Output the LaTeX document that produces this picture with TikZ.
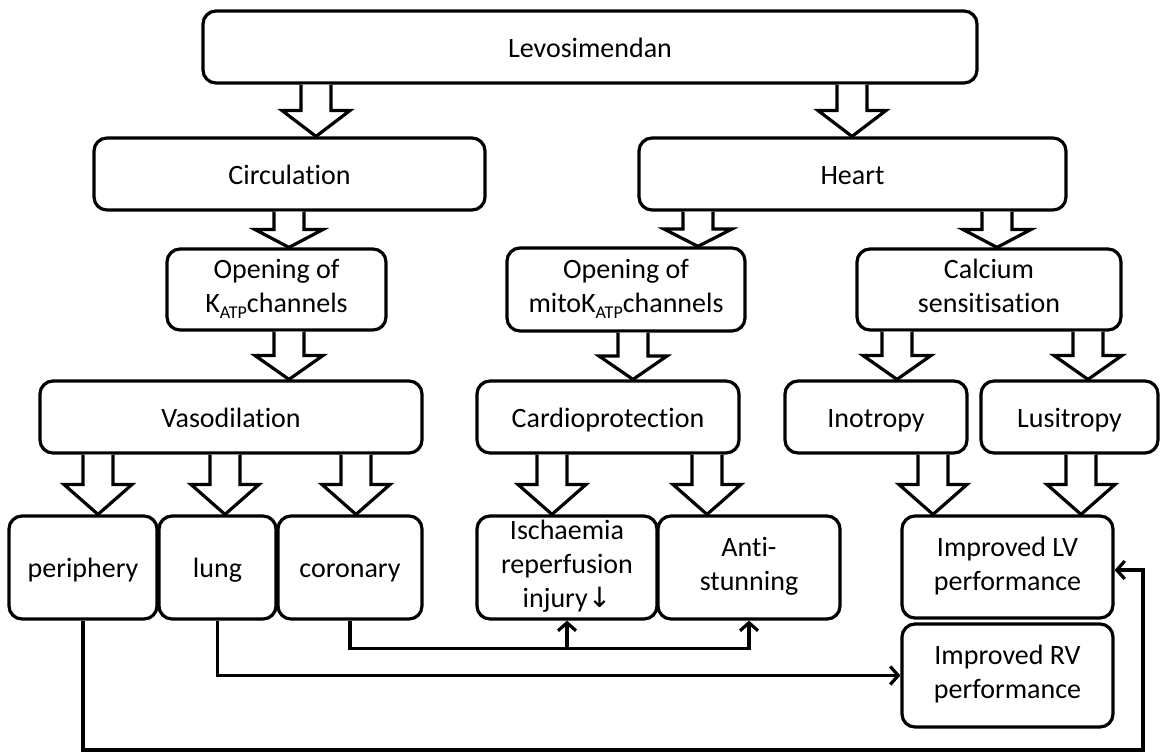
\documentclass[tikz,border=0pt]{standalone}
\usepackage{fontspec}
\setmainfont[Ligatures=NoCommon]{Carlito}
\newfontfamily\djv{DejaVu Sans}
\usetikzlibrary{calc,arrows.meta}
\newcommand\katp{K\raisebox{-6pt}{\fontsize{18}{18}\selectfont ATP}}
\newcommand\boxstrut{\rule[-7pt]{0pt}{34pt}}
\newcommand\fatarrow[3]{%
  \draw[fat] let \p1=(#1.south), \p2=(#2.north), \n1={(\y1-\y2)/2} in
    ({#3-15},\y1) -- ({#3-15},{\y2+\n1}) -- ({#3-34},{\y2+\n1}) -- (#3,\y2)
    -- ({#3+34},{\y2+\n1}) -- ({#3+15},{\y2+\n1}) -- ({#3+15},\y1);
}
\begin{document}
\begin{tikzpicture}[x=1pt,y=-1pt,
  box/.style={draw, line width=3.2pt, rounded corners=13pt, fill=white,
    align=center, inner sep=0pt, font=\fontsize{28}{34}\selectfont,
    execute at begin node=\boxstrut, execute at end node=\boxstrut},
  sz/.style args={#1x#2}{minimum width=#1pt, minimum height=#2pt},
  fat/.style={draw, line width=3.2pt, fill=white, line join=miter},
  link/.style={draw, line width=3.2pt, line join=miter,
    -{Straight Barb[length=8pt,width=18pt]}},
]
\useasboundingbox (0,0) rectangle (1160,753);

% boxes
\node[box, sz=774x72] (levo) at (590,47) {Levosimendan};
\node[box, sz=391x72] (circ) at (289.5,174) {Circulation};
\node[box, sz=427x72] (heart) at (852.5,174) {Heart};
\node[box, sz=219x81] (katp) at (276.5,289.5) {Opening of\\\katp channels};
\node[box, sz=238x83] (mitok) at (626,289.5) {Opening of\\mito\katp channels};
\node[box, sz=264x81] (calc) at (989,289.5) {Calcium\\sensitisation};
\node[box, sz=382x72] (vaso) at (231,417) {Vasodilation};
\node[box, sz=262x72] (cardio) at (608,417) {Cardioprotection};
\node[box, sz=182x72] (ino) at (876,417) {Inotropy};
\node[box, sz=177x72] (lusi) at (1069.5,417) {Lusitropy};
\node[box, sz=148x103] (peri) at (83,567.5) {periphery};
\node[box, sz=117x103] (lung) at (217.5,567.5) {lung};
\node[box, sz=144x103] (coro) at (350,567.5) {coronary};
\node[box, sz=180x103] (isch) at (567,567.5) {Ischaemia\\reperfusion\\injury{\djv ↓}};
\node[box, sz=182x103] (anti) at (749,567.5) {Anti-\\stunning};
\node[box, sz=211x102] (lv) at (1007.5,567) {Improved LV\\performance};
\node[box, sz=211x103] (rv) at (1007.5,675.5) {Improved RV\\performance};

% block arrows
\fatarrow{levo}{circ}{316}
\fatarrow{levo}{heart}{852}
\fatarrow{circ}{katp}{289}
\fatarrow{heart}{mitok}{698}
\fatarrow{heart}{calc}{997}
\fatarrow{katp}{vaso}{289}
\fatarrow{mitok}{cardio}{633}
\fatarrow{calc}{ino}{897}
\fatarrow{calc}{lusi}{1088}
\fatarrow{vaso}{peri}{98}
\fatarrow{vaso}{lung}{225}
\fatarrow{vaso}{coro}{356}
\fatarrow{cardio}{isch}{552}
\fatarrow{cardio}{anti}{707}
\fatarrow{ino}{lv}{933}
\fatarrow{lusi}{lv}{1081}

% connectors
\draw[link] (coro.south) -- ++(0,28) -| (anti.south);
\draw[link] (coro.south) ++(0,28) -| (isch.south);
\draw[link] (lung.south) |- (rv.west);
\coordinate (pr) at (1143,750);
\draw[link] (peri.south) |- (pr) |- ([yshift=-3pt]lv.east);
\end{tikzpicture}
\end{document}
